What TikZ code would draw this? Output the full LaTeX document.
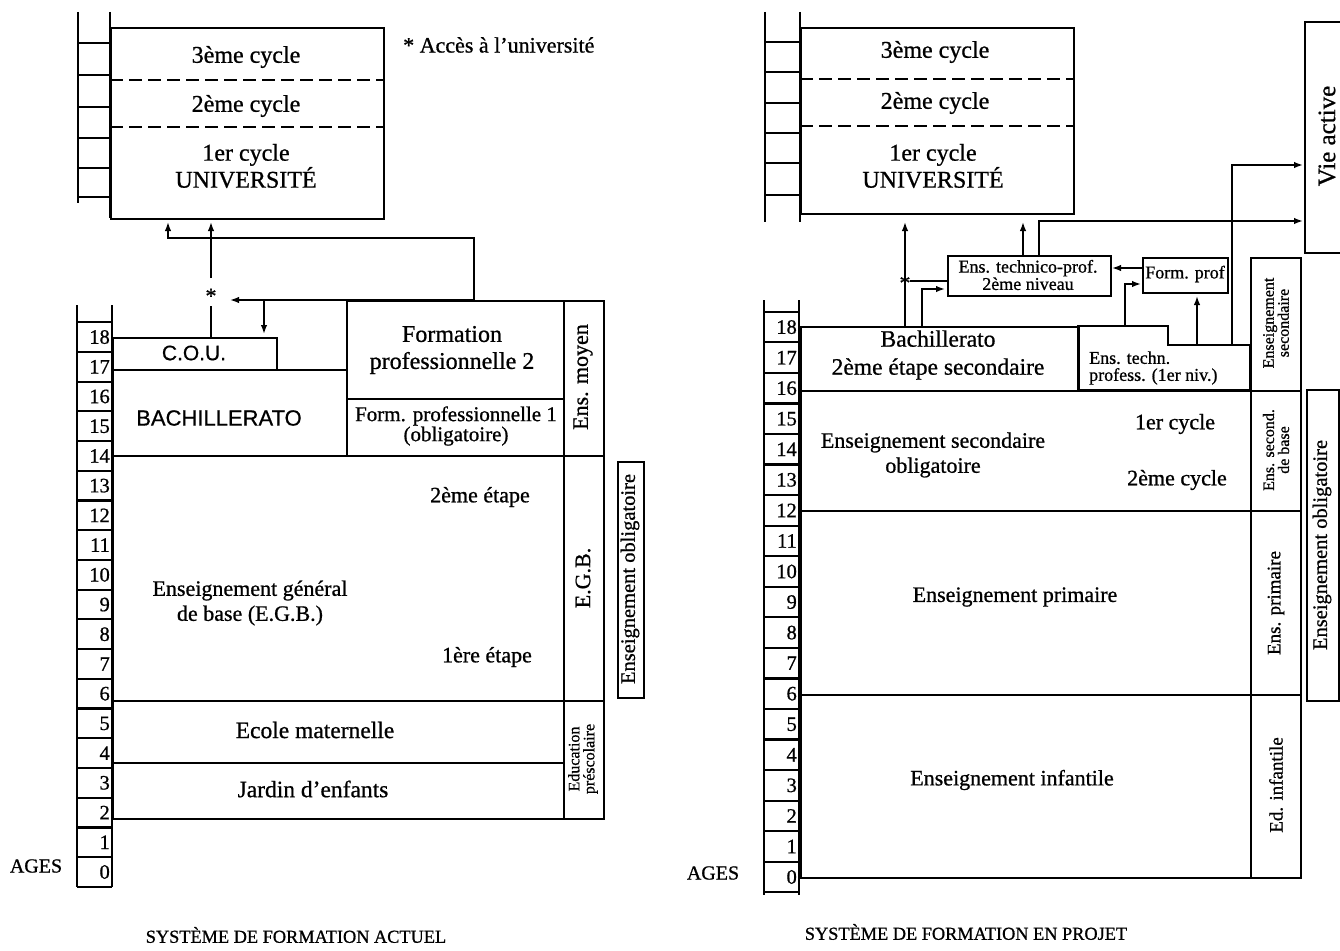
\documentclass[tikz,border=0pt]{standalone}
\usepackage{fontspec}
\setmainfont{Liberation Serif}[FakeBold=0.8]
\setsansfont{Liberation Sans}[FakeBold=0.6]
\usetikzlibrary{arrows.meta}
\newcommand\fszMain{\fontsize{22}{25}\selectfont}
\newcommand\fszBig{\fontsize{24}{27}\selectfont}
\newcommand\fszTiny{\fontsize{16}{15}\selectfont}
\newcommand\fszAge{\fontsize{20.5}{20}\selectfont}
\newcommand\fszTitle{\fontsize{18.3}{20}\selectfont}
\begin{document}
\begin{tikzpicture}[x=1pt,y=-1pt,
  ln/.style={line width=2.2pt},
  bx/.style={draw,line width=2.2pt,inner sep=0pt,anchor=north west},
  txt/.style={inner sep=0pt,font=\fszMain,align=center},
  rot/.style={inner sep=0pt,rotate=90,align=center},
  arr/.style={line width=1.7pt,-{Latex[length=9pt,width=6.5pt]}},
  dsh/.style={line width=2.2pt,dash pattern=on 13pt off 6pt},
]
\useasboundingbox (0,0) rectangle (1340,950);

% ================= LEFT : SYSTEME ACTUEL =================
% upper ladder
\draw[ln] (78,12) -- (78,203);
\draw[ln] (110,12) -- (110,218);
\foreach \y in {43,75,107,138,168,197}{\draw[ln] (78,\y) -- (110,\y);}
\node[bx,minimum width=273pt,minimum height=191pt] (univL) at (110,27) {};
\draw[dsh] (110,80) -- (383,80);
\draw[dsh] (110,127) -- (383,127);
\node[txt,font=\fszBig] (c3L) at (246,57) {3ème cycle};
\node[txt,font=\fszBig] (c2L) at (246,106) {2ème cycle};
\node[txt,font=\fszBig] (c1L) at (246,166) {1er cycle\\UNIVERSITÉ};
\node[txt,anchor=west] (acces) at (403,45) {* Accès à l'université};

% age column
\draw[ln] (77,305) -- (77,887);
\draw[ln] (112,305) -- (112,887);
\draw[ln] (77,322.2) -- (112,322.2);
\foreach \a in {0,...,18}{
  \pgfmathsetmacro\cy{872-29.72*\a}
  \draw[ln] (77,\cy+14.86) -- (112,\cy+14.86);
  \node[anchor=east,inner sep=0pt,font=\fszAge] (L\a) at (110,\cy) {\a};
}
\node[inner sep=0pt,font=\fontsize{20}{20}\selectfont] (agesL) at (36,866) {AGES};

% boxes
\node[bx,minimum width=164pt,minimum height=32pt] (cou) at (112,337) {};
\node[inner sep=0pt,font=\sffamily\fontsize{21}{22}\selectfont] (coutx) at (194,353) {C.O.U.};
\node[bx,minimum width=234pt,minimum height=86pt] (bachL) at (112,369) {};
\node[inner sep=0pt,font=\sffamily\fontsize{22}{22}\selectfont] (bachtx) at (219,418) {BACHILLERATO};
\node[bx,minimum width=217pt,minimum height=98pt] (fp2) at (346,300) {};
\node[txt,font=\fszBig] (fp2tx) at (452,350) {Formation\\professionnelle 2};
\node[bx,minimum width=217pt,minimum height=57pt] (fp1) at (346,398) {};
\node[txt,font=\fontsize{21}{16}\selectfont] (fp1tx) at (456,426) {Form. professionnelle 1\\(obligatoire)};
\node[bx,minimum width=40pt,minimum height=155pt] (moyen) at (563,300) {};
\node[rot,font=\fszMain] (moyentx) at (583,377) {Ens. moyen};
\node[bx,minimum width=451pt,minimum height=245pt] (egb) at (112,455) {};
\node[txt] (egb2) at (480,497) {2ème étape};
\node[txt] (egbtx) at (250,603) {Enseignement général\\de base (E.G.B.)};
\node[txt] (egb1) at (487,657) {1ère étape};
\node[bx,minimum width=40pt,minimum height=245pt] (egblab) at (563,455) {};
\node[rot,font=\fszMain] (egblabtx) at (583,578) {E.G.B.};
\node[bx,minimum width=451pt,minimum height=62pt] (ecole) at (112,700) {};
\node[txt,font=\fontsize{23.5}{25}\selectfont] (ecoletx) at (315,730) {Ecole maternelle};
\node[bx,minimum width=451pt,minimum height=56pt] (jardin) at (112,762) {};
\node[txt,font=\fontsize{23.5}{25}\selectfont] (jardintx) at (313,789) {Jardin d’enfants};
\node[bx,minimum width=40pt,minimum height=118pt] (presco) at (563,700) {};
\node[rot,font=\fszTiny] (prescotx) at (583,759) {Education\\préscolaire};
\node[bx,minimum width=26pt,minimum height=236pt] (oblL) at (617,461) {};
\node[rot,font=\fontsize{20.5}{22}\selectfont] (oblLtx) at (630,579) {Enseignement obligatoire};

% connectors left
\coordinate (fpTop) at (474,300);
\coordinate (aL1) at (168,238);
\coordinate (aL1t) at (168,222);
\draw[arr] (fpTop) |- (aL1) -- (aL1t);
\node[txt] (starL) at (211,296) {*};
\coordinate (sLa) at (211,278);
\coordinate (sLt) at (211,222);
\draw[arr] (sLa) -- (sLt);
\coordinate (sLb) at (211,306);
\coordinate (sLc) at (211,337);
\draw[ln] (sLb) -- (sLc);
\coordinate (aL2t) at (230,300);
\draw[arr] (fpTop) -- (aL2t);
\coordinate (aL3) at (264,300);
\coordinate (aL3t) at (264,334);
\draw[arr] (aL3) -- (aL3t);

\node[inner sep=0pt,font=\fszTitle] (titleL) at (296,935) {SYSTÈME DE FORMATION ACTUEL};

% ================= RIGHT : SYSTEME EN PROJET =================
\draw[ln] (765,12) -- (765,222);
\draw[ln] (800,12) -- (800,222);
\foreach \y in {42,72,103,133,163,195}{\draw[ln] (765,\y) -- (800,\y);}
\node[bx,minimum width=273pt,minimum height=186pt] (univR) at (800,27) {};
\draw[dsh] (800,79) -- (1073,79);
\draw[dsh] (800,126) -- (1073,126);
\node[txt,font=\fszBig] (c3R) at (935,52) {3ème cycle};
\node[txt,font=\fszBig] (c2R) at (935,103) {2ème cycle};
\node[txt,font=\fszBig] (c1R) at (933,166) {1er cycle\\UNIVERSITÉ};

% age column
\draw[ln] (764,300) -- (764,895);
\draw[ln] (799,300) -- (799,895);
\draw[ln] (764,311.8) -- (799,311.8);
\foreach \a in {0,...,18}{
  \pgfmathsetmacro\cy{877-30.55*\a}
  \draw[ln] (764,\cy+15.27) -- (799,\cy+15.27);
  \node[anchor=east,inner sep=0pt,font=\fszAge] (R\a) at (797,\cy) {\a};
}
\node[inner sep=0pt,font=\fontsize{20}{20}\selectfont] (agesR) at (713,873) {AGES};

% boxes
\node[bx,minimum width=163pt,minimum height=40pt] (tech2) at (947,255) {};
\node[txt,font=\fontsize{18}{16}\selectfont] (tech2tx) at (1028,275) {Ens. technico-prof.\\2ème niveau};
\node[bx,minimum width=85pt,minimum height=35pt] (fprof) at (1142,257) {};
\node[txt,font=\fontsize{18}{20}\selectfont] (fproftx) at (1185,274) {Form. prof};
\draw[ln] (1340,22) -- (1305,22) -- (1305,253) -- (1340,253);
\node[rot,font=\fontsize{25}{26}\selectfont] (vie) at (1327,136) {Vie active};

\node[bx,minimum width=278pt,minimum height=64pt] (bachR) at (800,326) {};
\node[txt,font=\fontsize{23.5}{28}\selectfont] (bachRtx) at (938,355) {Bachillerato\\2ème étape secondaire};
\draw[ln] (1078,326) -- (1168,326) -- (1168,345) -- (1250,345) -- (1250,390) -- (1078,390) -- cycle;
\node[inner sep=0pt,align=left,anchor=west,font=\fontsize{18}{17}\selectfont] (techtx) at (1089,368) {Ens. techn.\\profess. (1er niv.)};
\node[bx,minimum width=450pt,minimum height=120pt] (secob) at (800,390) {};
\node[txt] (secobtx) at (933,455) {Enseignement secondaire\\obligatoire};
\node[txt] (cyc1) at (1175,424) {1er cycle};
\node[txt] (cyc2) at (1177,480) {2ème cycle};
\node[bx,minimum width=450pt,minimum height=184pt] (prim) at (800,510) {};
\node[txt] (primtx) at (1015,597) {Enseignement primaire};
\node[bx,minimum width=450pt,minimum height=183pt] (inf) at (800,694) {};
\node[txt] (inftx) at (1012,780) {Enseignement infantile};

\node[bx,minimum width=50pt,minimum height=133pt] (seclab) at (1250,257) {};
\node[rot,font=\fszTiny] (seclabtx) at (1276,323) {Enseignement\\secondaire};
\node[bx,minimum width=50pt,minimum height=120pt] (baselab) at (1250,390) {};
\node[rot,font=\fszTiny] (baselabtx) at (1276,450) {Ens. second.\\de base};
\node[bx,minimum width=50pt,minimum height=184pt] (primlab) at (1250,510) {};
\node[rot,font=\fontsize{19}{20}\selectfont] (primlabtx) at (1276,603) {Ens. primaire};
\node[bx,minimum width=50pt,minimum height=183pt] (inflab) at (1250,694) {};
\node[rot,font=\fontsize{19}{20}\selectfont] (inflabtx) at (1276,785) {Ed. infantile};
\node[bx,minimum width=32pt,minimum height=311pt] (oblR) at (1306,389) {};
\node[rot,font=\fontsize{20.5}{22}\selectfont] (oblRtx) at (1322,545) {Enseignement obligatoire};

% connectors right
\coordinate (r1a) at (905,326);
\coordinate (r1t) at (905,222);
\draw[arr] (r1a) -- (r1t);
\node[txt] (starR) at (905,283) {*};
\coordinate (r1s) at (910,281);
\coordinate (r1e) at (947,281);
\draw[ln] (r1s) -- (r1e);
\coordinate (r2a) at (922,326);
\coordinate (r2t) at (945,289);
\draw[arr] (r2a) |- (r2t);
\coordinate (r3a) at (1023,255);
\coordinate (r3t) at (1023,222);
\draw[arr] (r3a) -- (r3t);
\coordinate (r4a) at (1039,255);
\coordinate (r4t) at (1303,221);
\draw[arr] (r4a) |- (r4t);
\coordinate (r5a) at (1232,345);
\coordinate (r5t) at (1303,165);
\draw[arr] (r5a) |- (r5t);
\coordinate (r6a) at (1142,268);
\coordinate (r6t) at (1112,268);
\draw[arr] (r6a) -- (r6t);
\coordinate (r7a) at (1125,326);
\coordinate (r7t) at (1141,284);
\draw[arr] (r7a) |- (r7t);
\coordinate (r8a) at (1197,345);
\coordinate (r8t) at (1197,296);
\draw[arr] (r8a) -- (r8t);

\node[inner sep=0pt,font=\fszTitle] (titleR) at (966,932) {SYSTÈME DE FORMATION EN PROJET};
\end{tikzpicture}
\end{document}
